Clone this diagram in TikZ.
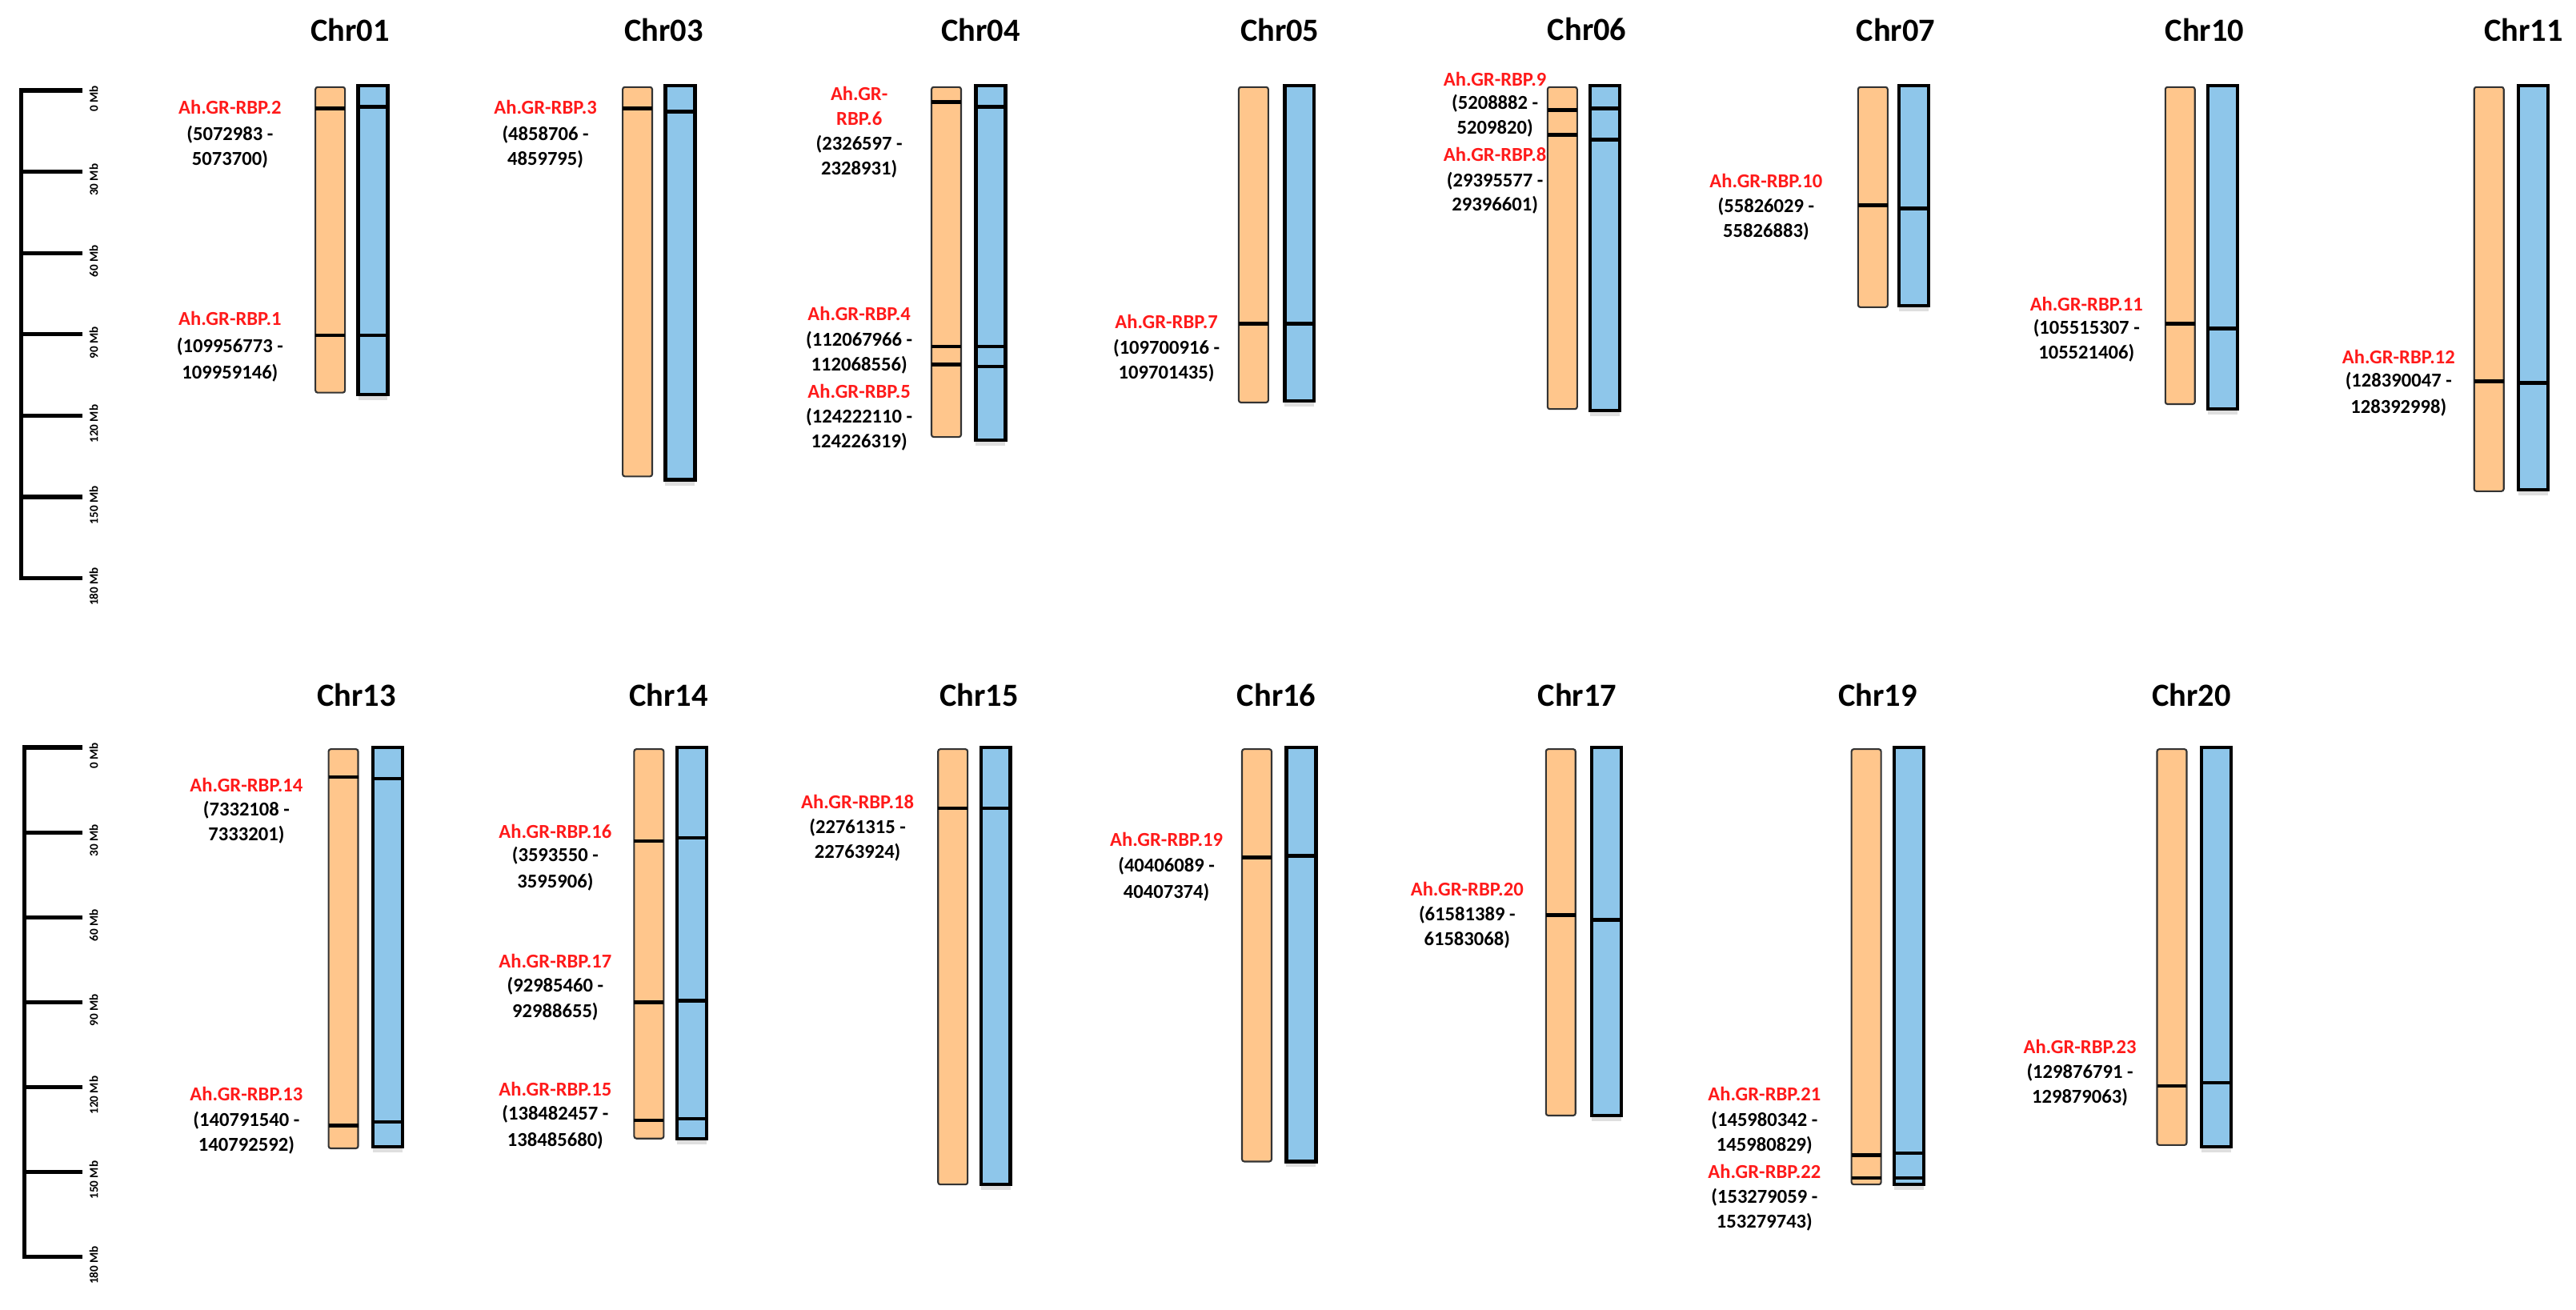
\documentclass[tikz,border=0pt]{standalone}
\usepackage{fontspec}
\setmainfont{Carlito}
\usetikzlibrary{shadows}
\definecolor{orng}{HTML}{FFC68C}
\definecolor{blu}{HTML}{8EC6EA}
\definecolor{rd}{HTML}{FF1A1A}
\tikzset{
 obar/.style={fill=orng,draw=black!80,line width=0.6pt,rounded corners=0.8pt},
 bbar/.style={fill=blu,draw=black,line width=1.2pt,drop shadow={opacity=0.25,shadow xshift=0pt,shadow yshift=-2pt}},
 mk/.style={line width=1.3pt},
 ttl/.style={font=\bfseries\fontsize{11.5}{12}\selectfont},
 gname/.style={text=rd,font=\bfseries\fontsize{7}{8}\selectfont},
 gpos/.style={text=black,font=\bfseries\fontsize{7}{8}\selectfont},
 rl/.style={line width=1.5pt},
 rlab/.style={rotate=90,font=\bfseries\fontsize{4.3}{5}\selectfont}
}
% #1 orange x, #2 blue x, #3 top, #4 orange bottom, #5 blue bottom
\newcommand\chrpair[5]{%
 \draw[obar] (#1,#3) rectangle (#1+18,#4);
 \draw[bbar] (#2,#3-1) rectangle (#2+18,#5);}
\newcommand\omk[2]{\draw[mk] (#1,#2) -- (#1+18,#2);}
\begin{document}
\begin{tikzpicture}[x=0.02053cm,y=-0.02053cm]
\useasboundingbox[fill=white] (0,0) rectangle (1568,797);
% rulers
\draw[rl] (50,55) -- (13,55) -- (13,352) -- (50,352);
\foreach \t [count=\i from 0] in {0,30,60,90,120,150,180}{
  \draw[rl] (13,55+\i*49.5) -- (50,55+\i*49.5);
  \node[rlab] (rt\i) at (57,60+\i*49.5) {\t\ Mb};}
\draw[rl] (50,455) -- (15,455) -- (15,765) -- (50,765);
\foreach \t [count=\i from 0] in {0,30,60,90,120,150,180}{
  \draw[rl] (15,455+\i*51.67) -- (50,455+\i*51.67);
  \node[rlab] (rb\i) at (57,460+\i*51.67) {\t\ Mb};}
% ---- top row
\node[ttl] (c01) at (213,18) {Chr01};
\chrpair{192}{218}{53}{239}{240}
\omk{192}{66}\omk{218}{65}\omk{192}{204}\omk{218}{204}
\node[gname] (g2) at (140,65) {Ah.GR-RBP.2};
\node[gpos] (p2a) at (140,82) {(5072983 -};
\node[gpos] (p2b) at (140,97) {5073700)};
\node[gname] (g1) at (140,194) {Ah.GR-RBP.1};
\node[gpos] (p1a) at (140,211) {(109956773 -};
\node[gpos] (p1b) at (140,227) {109959146)};

\node[ttl] (c03) at (404,18) {Chr03};
\chrpair{379}{405}{53}{290}{292}
\omk{379}{66}\omk{405}{68}
\node[gname] (g3) at (332,65) {Ah.GR-RBP.3};
\node[gpos] (p3a) at (332,82) {(4858706 -};
\node[gpos] (p3b) at (332,97) {4859795)};

\node[ttl] (c04) at (597,18) {Chr04};
\chrpair{567}{594}{53}{266}{268}
\omk{567}{62}\omk{594}{65}\omk{567}{211}\omk{594}{211}\omk{567}{222}\omk{594}{223}
\node[gname] (g6a) at (523,57) {Ah.GR-};
\node[gname] (g6b) at (523,72) {RBP.6};
\node[gpos] (p6a) at (523,88) {(2326597 -};
\node[gpos] (p6b) at (523,103) {2328931)};
\node[gname] (g4) at (523,191) {Ah.GR-RBP.4};
\node[gpos] (p4a) at (523,207) {(112067966 -};
\node[gpos] (p4b) at (523,222) {112068556)};
\node[gname] (g5) at (523,238) {Ah.GR-RBP.5};
\node[gpos] (p5a) at (523,254) {(124222110 -};
\node[gpos] (p5b) at (523,269) {124226319)};

\node[ttl] (c05) at (779,18) {Chr05};
\chrpair{754}{782}{53}{245}{244}
\omk{754}{197}\omk{782}{197}
\node[gname] (g7) at (710,196) {Ah.GR-RBP.7};
\node[gpos] (p7a) at (710,212) {(109700916 -};
\node[gpos] (p7b) at (710,227) {109701435)};

\node[ttl] (c06) at (966,18) {Chr06};
\chrpair{942}{968}{53}{249}{250}
\omk{942}{67}\omk{968}{66}\omk{942}{82}\omk{968}{85}
\node[gname] (g9) at (910,48) {Ah.GR-RBP.9};
\node[gpos] (p9a) at (910,63) {(5208882 -};
\node[gpos] (p9b) at (910,78) {5209820)};
\node[gname] (g8) at (910,94) {Ah.GR-RBP.8};
\node[gpos] (p8a) at (910,110) {(29395577 -};
\node[gpos] (p8b) at (910,125) {29396601)};

\node[ttl] (c07) at (1154,18) {Chr07};
\chrpair{1131}{1156}{53}{187}{186}
\omk{1131}{125}\omk{1156}{127}
\node[gname] (g10) at (1075,110) {Ah.GR-RBP.10};
\node[gpos] (p10a) at (1075,126) {(55826029 -};
\node[gpos] (p10b) at (1075,141) {55826883)};

\node[ttl] (c10) at (1342,18) {Chr10};
\chrpair{1318}{1344}{53}{246}{249}
\omk{1318}{197}\omk{1344}{200}
\node[gname] (g11) at (1270,185) {Ah.GR-RBP.11};
\node[gpos] (p11a) at (1270,200) {(105515307 -};
\node[gpos] (p11b) at (1270,215) {105521406)};

\node[ttl] (c11) at (1536,18) {Chr11};
\chrpair{1506}{1533}{53}{299}{298}
\omk{1506}{232}\omk{1533}{233}
\node[gname] (g12) at (1460,217) {Ah.GR-RBP.12};
\node[gpos] (p12a) at (1460,232) {(128390047 -};
\node[gpos] (p12b) at (1460,248) {128392998)};
% ---- bottom row
\node[ttl] (c13) at (217,423) {Chr13};
\chrpair{200}{227}{456}{699}{698}
\omk{200}{473}\omk{227}{474}\omk{200}{685}\omk{227}{683}
\node[gname] (g14) at (150,478) {Ah.GR-RBP.14};
\node[gpos] (p14a) at (150,493) {(7332108 -};
\node[gpos] (p14b) at (150,508) {7333201)};
\node[gname] (g13) at (150,666) {Ah.GR-RBP.13};
\node[gpos] (p13a) at (150,682) {(140791540 -};
\node[gpos] (p13b) at (150,697) {140792592)};

\node[ttl] (c14) at (407,423) {Chr14};
\chrpair{386}{412}{456}{693}{693}
\omk{386}{512}\omk{412}{510}\omk{386}{610}\omk{412}{609}\omk{386}{682}\omk{412}{681}
\node[gname] (g16) at (338,506) {Ah.GR-RBP.16};
\node[gpos] (p16a) at (338,521) {(3593550 -};
\node[gpos] (p16b) at (338,537) {3595906)};
\node[gname] (g17) at (338,585) {Ah.GR-RBP.17};
\node[gpos] (p17a) at (338,600) {(92985460 -};
\node[gpos] (p17b) at (338,616) {92988655)};
\node[gname] (g15) at (338,663) {Ah.GR-RBP.15};
\node[gpos] (p15a) at (338,678) {(138482457 -};
\node[gpos] (p15b) at (338,694) {138485680)};

\node[ttl] (c15) at (596,423) {Chr15};
\chrpair{571}{597}{456}{721}{721}
\omk{571}{492}\omk{597}{492}
\node[gname] (g18) at (522,488) {Ah.GR-RBP.18};
\node[gpos] (p18a) at (522,504) {(22761315 -};
\node[gpos] (p18b) at (522,519) {22763924)};

\node[ttl] (c16) at (777,423) {Chr16};
\chrpair{756}{783}{456}{707}{707}
\omk{756}{522}\omk{783}{521}
\node[gname] (g19) at (710,511) {Ah.GR-RBP.19};
\node[gpos] (p19a) at (710,527) {(40406089 -};
\node[gpos] (p19b) at (710,543) {40407374)};

\node[ttl] (c17) at (960,423) {Chr17};
\chrpair{941}{969}{456}{679}{679}
\omk{941}{557}\omk{969}{560}
\node[gname] (g20) at (893,541) {Ah.GR-RBP.20};
\node[gpos] (p20a) at (893,557) {(61581389 -};
\node[gpos] (p20b) at (893,572) {61583068)};

\node[ttl] (c19) at (1143,423) {Chr19};
\chrpair{1127}{1153}{456}{721}{721}
\omk{1127}{703}\omk{1153}{702}\omk{1127}{717}\omk{1153}{717}
\node[gname] (g21) at (1074,666) {Ah.GR-RBP.21};
\node[gpos] (p21a) at (1074,682) {(145980342 -};
\node[gpos] (p21b) at (1074,697) {145980829)};
\node[gname] (g22) at (1074,713) {Ah.GR-RBP.22};
\node[gpos] (p22a) at (1074,729) {(153279059 -};
\node[gpos] (p22b) at (1074,744) {153279743)};

\node[ttl] (c20) at (1334,423) {Chr20};
\chrpair{1313}{1340}{456}{697}{698}
\omk{1313}{661}\omk{1340}{659}
\node[gname] (g23) at (1266,637) {Ah.GR-RBP.23};
\node[gpos] (p23a) at (1266,653) {(129876791 -};
\node[gpos] (p23b) at (1266,668) {129879063)};
\end{tikzpicture}
\end{document}
